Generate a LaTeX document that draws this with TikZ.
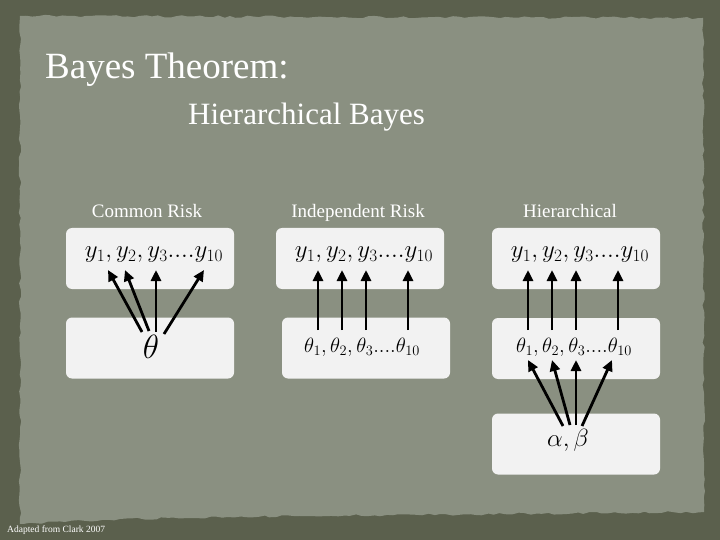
\documentclass[tikz,border=0pt]{standalone}
\usepackage{fontspec}
\setmainfont{Liberation Serif}
\usetikzlibrary{arrows.meta,decorations.pathmorphing}

\definecolor{framegreen}{HTML}{5B604D}
\definecolor{papergreen}{HTML}{8A9081}
\definecolor{boxgray}{HTML}{F2F2F2}

\tikzset{
  panel/.style={fill=boxgray, rounded corners=6pt, minimum width=168pt, minimum height=61pt, inner sep=0pt},
  link/.style={line width=2.8pt, -{Triangle[length=11pt,width=10pt]}},
  heading/.style={text=white, font=\fontsize{19}{22}\selectfont, anchor=base},
  mathrow/.style={font=\fontsize{22}{26}\selectfont, inner sep=0pt}
}

\begin{document}
\begin{tikzpicture}[x=1pt, y=-1pt]
    \useasboundingbox (0,0) rectangle (720,540);
    % background and paper
    \fill[framegreen] (0,0) rectangle (720,540);
    \pgfmathsetseed{7}
    \fill[papergreen, decorate, decoration={random steps, segment length=6pt, amplitude=1.2pt}]
        (20,16) -- (703,18) -- (704,512) -- (300,516) -- (120,519) -- (20,524) -- cycle;

    % titles
    \node[text=white, anchor=base west, font=\fontsize{37}{40}\selectfont, inner sep=0pt] (title) at (45,79) {Bayes Theorem:};
    \node[text=white, anchor=base west, font=\fontsize{31}{34}\selectfont, inner sep=0pt] (subtitle) at (188,125) {Hierarchical Bayes};
    \node[text=white, anchor=base west, font=\fontsize{9.5}{11}\selectfont, inner sep=0pt] (credit) at (7,532) {Adapted from Clark 2007};

    % column headings
    \node[heading] (hcommon) at (147,218) {Common Risk};
    \node[heading] (hindep) at (358,218) {Independent Risk};
    \node[heading] (hhier) at (570,218) {Hierarchical};

    % boxes
    \node[panel] (cdata) at (150,258.5) {};
    \node[panel] (cpar) at (150,348) {};
    \node[panel] (idata) at (360,258.5) {};
    \node[panel] (ipar) at (366,348) {};
    \node[panel] (hdata) at (576,258.5) {};
    \node[panel] (hpar) at (576,348.5) {};
    \node[panel] (hhyp) at (576,444) {};

    % contents
    \node[mathrow, font=\fontsize{25}{28}\selectfont] (cy) at (154,255) {$y_1, y_2, y_3....y_{10}$};
    \node[mathrow, font=\fontsize{25}{28}\selectfont] (ctheta) at (151,347) {\scalebox{1.35}{$\theta$}};
    \node[mathrow, font=\fontsize{25}{28}\selectfont] (iy) at (364,255) {$y_1, y_2, y_3....y_{10}$};
    \node[mathrow] (itheta) at (362,347) {$\theta_1, \theta_2, \theta_3....\theta_{10}$};
    \node[mathrow, font=\fontsize{25}{28}\selectfont] (hy) at (580,255) {$y_1, y_2, y_3....y_{10}$};
    \node[mathrow] (htheta) at (574,347) {$\theta_1, \theta_2, \theta_3....\theta_{10}$};
    \node[mathrow, font=\fontsize{24}{27}\selectfont] (hab) at (568,440) {$\alpha, \beta$};

    % arrow ends
    \coordinate (c1) at (108,270); \coordinate (c2) at (125,270);
    \coordinate (c3) at (156,270); \coordinate (c4) at (204,270);
    \coordinate (t1) at (142,332); \coordinate (t2) at (149,331);
    \coordinate (t3) at (156,332); \coordinate (t4) at (164,334);
    \draw[link] (t1) -- (c1);
    \draw[link] (t2) -- (c2);
    \draw[link] (t3) -- (c3);
    \draw[link] (t4) -- (c4);

    \coordinate (i1) at (318,330); \coordinate (i2) at (342,330);
    \coordinate (i3) at (366,330); \coordinate (i4) at (408,330);
    \coordinate (j1) at (318,270); \coordinate (j2) at (342,270);
    \coordinate (j3) at (366,270); \coordinate (j4) at (408,270);
    \draw[link] (i1) -- (j1);
    \draw[link] (i2) -- (j2);
    \draw[link] (i3) -- (j3);
    \draw[link] (i4) -- (j4);

    \coordinate (h1) at (528,330); \coordinate (h2) at (552,330);
    \coordinate (h3) at (576,330); \coordinate (h4) at (618,330);
    \coordinate (k1) at (528,270); \coordinate (k2) at (552,270);
    \coordinate (k3) at (576,270); \coordinate (k4) at (618,270);
    \draw[link] (h1) -- (k1);
    \draw[link] (h2) -- (k2);
    \draw[link] (h3) -- (k3);
    \draw[link] (h4) -- (k4);

    \coordinate (a1) at (563,426); \coordinate (a2) at (570,425);
    \coordinate (a3) at (576,425); \coordinate (a4) at (582,426);
    \coordinate (b1) at (528,360); \coordinate (b2) at (552,360);
    \coordinate (b3) at (576,360); \coordinate (b4) at (612,360);
    \draw[link] (a1) -- (b1);
    \draw[link] (a2) -- (b2);
    \draw[link] (a3) -- (b3);
    \draw[link] (a4) -- (b4);
\end{tikzpicture}
\end{document}
